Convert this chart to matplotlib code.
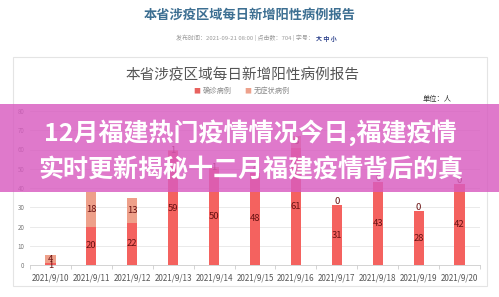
import matplotlib
matplotlib.use("Agg")
import matplotlib.pyplot as plt
from matplotlib.patches import Rectangle
import numpy as np

plt.rcParams['font.family'] = ['Noto Sans CJK SC', 'DejaVu Sans']

# data
dates = ['2021/9/10', '2021/9/11', '2021/9/12', '2021/9/13', '2021/9/14', '2021/9/15',
         '2021/9/16', '2021/9/17', '2021/9/18', '2021/9/19', '2021/9/20']
confirmed = [1, 20, 22, 59, 50, 48, 61, 31, 43, 28, 42]
asymptomatic = [4, 18, 13, 1, 1, 0, 6, 0, 0, 0, 0]
y_ticks = [0, 10, 20, 30, 40, 50, 60, 70, 80]

W, H = 499, 297


def fx(x):
    return x / W


def fy(y):
    return 1 - y / H


fig = plt.figure(figsize=(W / 100, H / 100), dpi=100)
fig.patch.set_facecolor('white')

# page header
fig.text(fx(250), fy(15), '本省涉疫区域每日新增阳性病例报告', ha='center', va='center',
         fontsize=9.5, fontweight='bold', color='#3d6f92')
fig.text(fx(314), fy(38), '发布时间：2021-09-21 08:00 | 点击数：704 | 字号：',
         ha='right', va='center', fontsize=4.3, color='#9a9a9a')
fig.text(fx(316), fy(38), '大 中 小', ha='left', va='center', fontsize=4.3,
         fontweight='bold', color='#2a3f8a')

# chart panel
fig.patches.append(Rectangle((fx(13), fy(286)), fx(487) - fx(13), fy(57) - fy(286),
                             transform=fig.transFigure, facecolor='white',
                             edgecolor='#e4e4e4', linewidth=0.8, zorder=-5))
fig.text(fx(243), fy(75), '本省涉疫区域每日新增阳性病例报告', ha='center', va='center',
         fontsize=10.5, color='#555555')
fig.text(fx(197), fy(91), '■', ha='center', va='center', fontsize=5, color='#e8625f')
fig.text(fx(203), fy(91), '确诊病例', ha='left', va='center', fontsize=5.2, color='#8a8a8a')
fig.text(fx(248), fy(91), '■', ha='center', va='center', fontsize=5, color='#eda18c')
fig.text(fx(254), fy(91), '无症状病例', ha='left', va='center', fontsize=5.2, color='#8a8a8a')
fig.text(fx(437), fy(99), '单位：人', ha='center', va='center', fontsize=5.2, color='#333333')

ax = fig.add_axes([fx(30), fy(265), fx(480) - fx(30), fy(111) - fy(265)])
x = np.arange(len(dates))
ax.bar(x, confirmed, width=0.25, color='#f4625f', zorder=3)
ax.bar(x, asymptomatic, width=0.25, bottom=confirmed, color='#eea08a', zorder=3)

for i in range(len(dates)):
    c, a = confirmed[i], asymptomatic[i]
    ax.text(x[i], c / 2 if c > 2 else c / 2 - 0.8, str(c), ha='center', va='center',
            fontsize=6.8, color='#6a1212', zorder=4)
    ypos = c + a / 2 if a > 0 else c + 1.8
    ax.text(x[i], ypos, str(a), ha='center', va='center', fontsize=6.8,
            color='#6a1212', zorder=4)

ax.set_xlim(-0.5, len(dates) - 0.5)
ax.set_ylim(0, 80)
ax.set_yticks(y_ticks)
ax.set_yticklabels([str(v) for v in y_ticks], fontsize=4.5, color='#777777')
ax.set_xticks(x)
ax.set_xticklabels(dates, fontsize=5.8, color='#555555')
ax.set_xticks(np.arange(-0.5, len(dates), 1), minor=True)
ax.tick_params(axis='x', which='major', length=0, pad=6)
ax.tick_params(axis='x', which='minor', length=3, color='#cccccc')
ax.tick_params(axis='y', length=0, pad=4)
ax.grid(axis='y', color='#e6e6e6', linewidth=0.6, zorder=0)
for s in ['top', 'right', 'left']:
    ax.spines[s].set_visible(False)
ax.spines['bottom'].set_color('#cccccc')
ax.spines['bottom'].set_linewidth(0.6)
ax.set_facecolor('none')

# pink overlay band with article title
fig.patches.append(Rectangle((0, fy(192)), 1, fy(104) - fy(192), transform=fig.transFigure,
                             facecolor='#d85cc0', alpha=0.82, edgecolor='none', zorder=10))
fig.text(fx(250), fy(133), '12月福建热门疫情情况今日,福建疫情', ha='center', va='center',
         fontsize=18, fontweight='bold', color='white', zorder=11)
fig.text(fx(251), fy(170), '实时更新揭秘十二月福建疫情背后的真', ha='center', va='center',
         fontsize=18, fontweight='bold', color='white', zorder=11)

fig.savefig('out.png', dpi=100)
